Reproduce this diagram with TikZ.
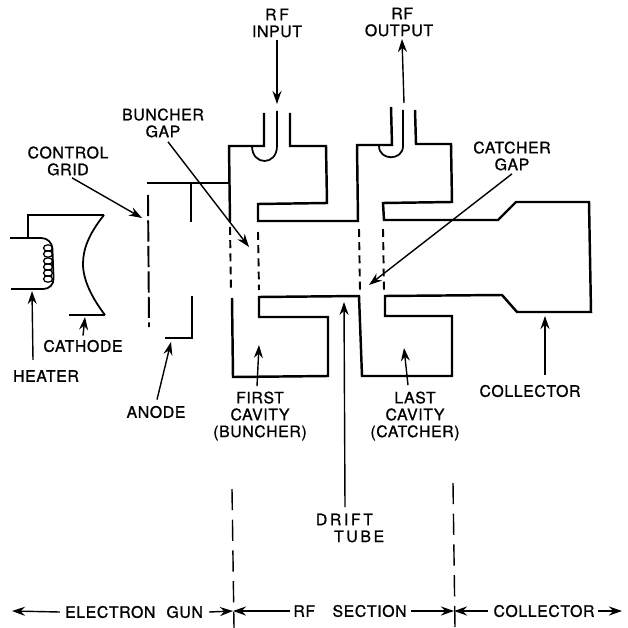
\documentclass[tikz,border=0pt]{standalone}
\usepackage{fontspec}
\setmainfont[LetterSpace=4,FakeBold=1]{TeX Gyre Heros}
\usetikzlibrary{arrows.meta}
\tikzset{
  wall/.style={line width=1.4pt, line join=miter},
  thinwall/.style={line width=1pt},
  coilturn/.style={line width=0.7pt},
  gap/.style={line width=1.1pt, dash pattern=on 4.5pt off 3pt},
  pointer/.style={line width=0.8pt, -{Stealth[length=2.6mm, width=1.8mm]}},
  sectionline/.style={line width=0.8pt},
  lbl/.style={inner sep=0pt, font=\fontsize{9}{9.6}\selectfont, align=center}
}
\begin{document}
\begin{tikzpicture}[x=0.02cm, y=-0.02cm]
        \useasboundingbox (0,0) rectangle (628,628);

        % Draw labels
        \node[lbl] (rfin) at (277,23) {R\,F\\INPUT};
        \node[lbl] (rfout) at (399,22) {\hspace*{0.4em}RF\\OUTPUT};
        \node[lbl] (bunchergap) at (163,123) {BUNCHER\\GAP};
        \node[lbl] (catchergap) at (512,156) {CATCHER\\GAP};
        \node[lbl] (grid) at (68,161) {CONTROL\\GRID};
        \node[lbl] (cathode) at (83,346) {CATHODE};
        \node[lbl] (heater) at (46,376) {HEATER};
        \node[lbl] (anode) at (156,412) {ANODE};
        \node[lbl] (first) at (260,416) {FIRST\\CAVITY\\(BUNCHER)};
        \node[lbl] (last) at (415,416) {LAST\\CAVITY\\(CATCHER)};
        \node[lbl] (collector) at (530,391) {COLLECTOR};
        \node[lbl, align=left] (drift) at (350,528) {D\,R\,I\,F\,T\\\hspace*{1.15em}T\,U\,B\,E};
        \node[lbl] (gun) at (134,612) {ELECTRON\hspace{0.7em}GUN};
        \node[lbl] (rf) at (350,611) {RF\hspace{1.1em}SECTION};
        \node[lbl] (coll) at (544,611) {COLLECTOR};

        % Draw cathode and heater
        \draw[wall] (28,238) -- (28,215) -- (104,215);
        \draw[thinwall] (104,215) .. controls (88,235) and (83,250) .. (83,264) .. controls (83,280) and (92,298) .. (105,315);
        \draw[wall] (69,315) -- (105,315);
        \draw[thinwall, rounded corners=6pt] (10,238) -- (52,238) -- (54,289) -- (11,289);
        \foreach \y in {248,254,261,267,273,279}
            \draw[coilturn] (48,\y) ellipse (4.5 and 3.2);

        % Draw grid and anode
        \draw[gap, dash pattern=on 12pt off 2.5pt] (148,195) -- (149,327);
        \draw[wall] (147,183) -- (230,183);
        \draw[wall] (191,183) -- (191,222);
        \draw[wall] (192,296) -- (192,338) -- (165,338);

        % Draw RF section and collector
        \draw[wall] (264,113) -- (264,146) -- (229,146) -- (230,222);
        \draw[wall] (290,113) -- (290,146) -- (326,146) -- (327,203) -- (258,204) -- (258,221)
            -- (358,221) -- (357,145) -- (392,145) -- (391,107);
        \draw[wall] (415,110) -- (416,144) -- (451,144) -- (452,202) -- (383,203) -- (384,220)
            -- (498,220) -- (516,202) -- (589,202) -- (591,312) -- (517,312) -- (502,295)
            -- (385,296) -- (385,316) -- (452,316) -- (452,376) -- (362,376) -- (359,296)
            -- (259,297) -- (259,317) -- (328,317) -- (328,376) -- (233,377) -- (232,298);
        \draw[thinwall] (277,111) -- (277,146) .. controls (277,166) and (252,166) .. (252,146);
        \draw[thinwall] (403,110) -- (403,146) .. controls (403,161) and (379,161) .. (379,146);

        % Draw gaps
        \draw[gap] (230,227) -- (231,292);
        \draw[gap] (258,232) -- (259,290);
        \draw[gap] (359,229) -- (360,290);
        \draw[gap] (383,229) -- (384,290);

        % Draw section lines
        \draw[sectionline, dash pattern=on 12pt off 5.5pt] (232,489) -- (234,628);
        \draw[sectionline, dash pattern=on 12pt off 5.5pt] (453,483) -- (455,628);

        % Draw pointers
        \coordinate (bunchertip) at (249,247);
        \coordinate (catchertip) at (369,285);
        \coordinate (gridtip) at (142,218);
        \coordinate (cathodetip) at (85,317);
        \coordinate (heatertip) at (32,291);
        \coordinate (anodetip) at (171,342);
        \coordinate (firsttip) at (259,345);
        \coordinate (lasttip) at (404,348);
        \coordinate (drifttip) at (344,302);
        \coordinate (collectortip) at (545,316);
        \coordinate (intip) at (277,104);
        \coordinate (outtip) at (402,39);
        \coordinate (outtail) at (404,103);
        \coordinate (drifttail) at (345,507);
        \coordinate (gunleft) at (12,611);
        \coordinate (gunright) at (233,611);
        \coordinate (collright) at (622,611);
        \coordinate (rfright) at (454,611);
        \draw[pointer] (rfin.south) ++(0,2) -- (intip);
        \draw[pointer] (outtail) -- (outtip);
        \draw[pointer] (bunchergap.south) ++(5,4) -- (bunchertip);
        \draw[pointer] (catchergap.south) ++(0,3) -- (catchertip);
        \draw[pointer] (grid.south) ++(4,2) -- (gridtip);
        \draw[pointer] (cathode.north) ++(0,-4) -- (cathodetip);
        \draw[pointer] (heater.north) ++(-13,-10) -- (heatertip);
        \draw[pointer] (anode.north) ++(1,-6) -- (anodetip);
        \draw[pointer] (first.north) ++(-3,-5) -- (firsttip);
        \draw[pointer] (last.north) ++(-7,-6) -- (lasttip);
        \draw[pointer] (drifttail) -- (drifttip);
        \draw[pointer] (collector.north) ++(15,-10) -- (collectortip);
        \draw[pointer] (gun.west) ++(-5,0) -- (gunleft);
        \draw[pointer] (gun.east) ++(6,0) -- (gunright);
        \draw[pointer] (rf.west) ++(-3,0) -- (gunright);
        \draw[pointer] (rf.east) ++(4,0) -- (rfright);
        \draw[pointer] (coll.west) ++(-5,0) -- (rfright);
        \draw[pointer] (coll.east) ++(3,0) -- (collright);
    \end{tikzpicture}
\end{document}
